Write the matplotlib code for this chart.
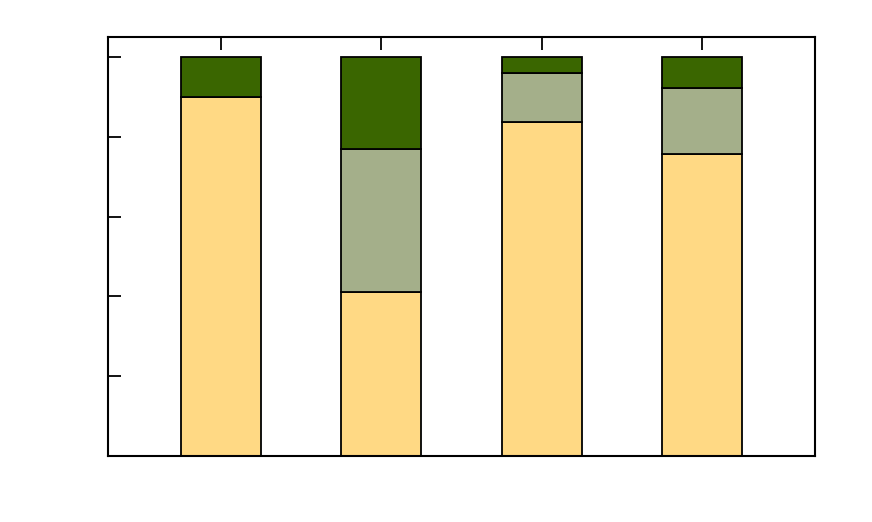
import numpy as np
import matplotlib
matplotlib.use("Agg")
import matplotlib.pyplot as plt

# stacked shares per group (percent)
groups = ["A", "B", "C", "D"]
part_low = [90.0, 41.0, 83.7, 75.6]
part_mid = [0.0, 35.9, 12.4, 16.7]
part_top = [10.0, 23.1, 3.9, 7.7]

col_low = "#FFD984"
col_mid = "#A4AF8A"
col_top = "#3A6600"

fig = plt.figure(figsize=(8.72, 5.22), dpi=100)
ax = fig.add_axes([108 / 872, 1 - 456 / 522, 707 / 872, 419 / 522])

x = np.arange(len(groups))
w = 0.5
low = np.array(part_low)
mid = np.array(part_mid)
top = np.array(part_top)
ax.bar(x, low, w, color=col_low, edgecolor="black", linewidth=1.3)
ax.bar(x, mid, w, bottom=low, color=col_mid, edgecolor="black", linewidth=1.3)
ax.bar(x, top, w, bottom=low + mid, color=col_top, edgecolor="black", linewidth=1.3)

ax.set_xlim(-0.705, 3.705)
ax.set_ylim(0, 105)
ax.set_yticks(np.arange(0, 101, 20))
ax.set_xticks(x)
ax.tick_params(axis="y", direction="in", length=9, width=1.3, left=True, right=False, labelleft=False)
ax.tick_params(axis="x", direction="in", length=9, width=1.3, top=True, bottom=False, labelbottom=False)
for s in ax.spines.values():
    s.set_linewidth(1.5)

fig.savefig("out.png", dpi=100)
